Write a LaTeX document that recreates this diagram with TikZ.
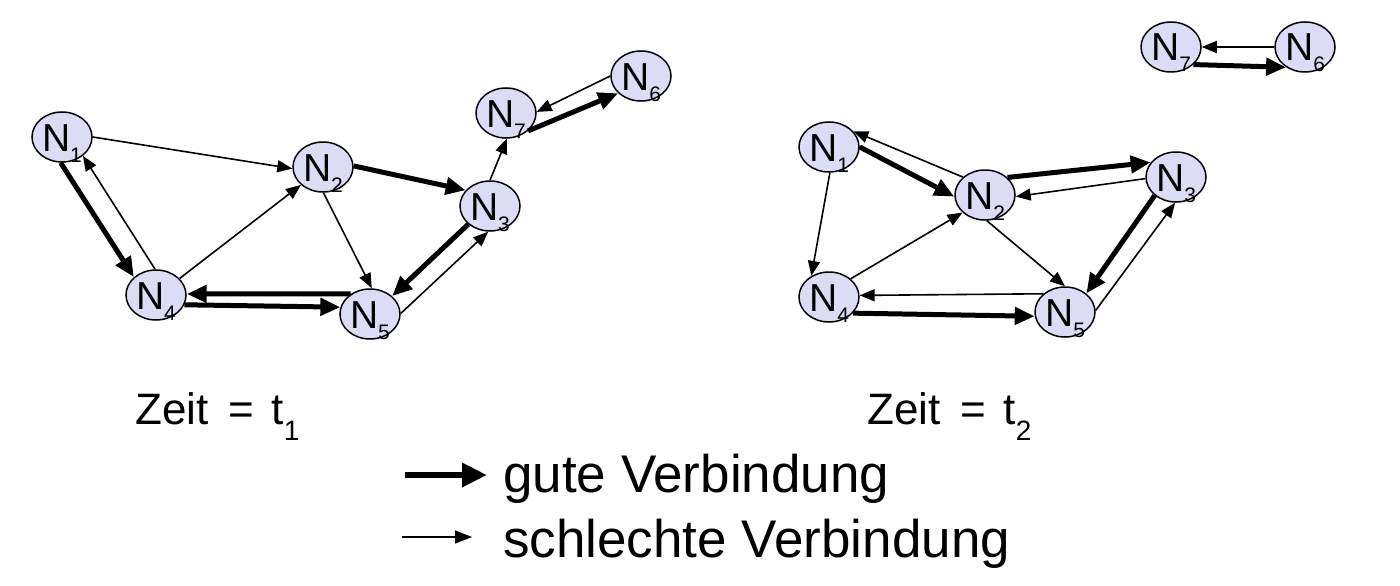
\documentclass[tikz,border=0pt]{standalone}
\usepackage{fontspec}
\setmainfont{Liberation Sans}
\usetikzlibrary{arrows.meta,shapes.geometric}
\definecolor{nodefill}{RGB}{220,220,245}
\newcommand\nsub[1]{\raisebox{-11pt}{\fontsize{21}{21}\selectfont #1}}
\newcommand\zsub[1]{\raisebox{-16pt}{\fontsize{28}{28}\selectfont #1}}
\tikzset{
  nd/.style={ellipse, draw=black, line width=1.5pt, fill=nodefill,
    minimum width=60pt, minimum height=50pt, inner sep=0pt,
    text height=28pt, text depth=0pt, font=\fontsize{39}{39}\selectfont},
  bad/.style={line width=1.6pt, -{Triangle[length=15pt,width=12pt]}},
  good/.style={line width=5pt, -{Triangle[length=20pt,width=17pt]}},
  badL/.style={line width=1.6pt, -{Triangle[length=17pt,width=13pt]}},
  goodL/.style={line width=6.5pt, -{Triangle[length=25pt,width=23pt]}},
  zeit/.style={inner sep=0pt, anchor=base west, font=\fontsize{44}{44}\selectfont},
  leg/.style={inner sep=0pt, anchor=base west, font=\fontsize{53}{53}\selectfont}
}
\begin{document}
\begin{tikzpicture}[x=1pt,y=-1pt]
\useasboundingbox (0,0) rectangle (1400,586);
% ---- Zeit = t1 ----
\node[nd] (a1) at (62,137) {N\nsub{1}};
\node[nd] (a2) at (323,167) {N\nsub{2}};
\node[nd] (a3) at (490,206) {N\nsub{3}};
\node[nd] (a4) at (156,295) {N\nsub{4}};
\node[nd] (a5) at (370,314) {N\nsub{5}};
\node[nd] (a6) at (641,76) {N\nsub{6}};
\node[nd] (a7) at (506,113) {N\nsub{7}};
\draw[bad]  (a1.0) -- (a2.183);
\draw[good] (a1.-93) -- (a4.141);
\draw[bad]  (a4.92) -- (a1.-42);
\draw[bad]  (a4.35) -- (a2.-141);
\draw[bad]  (a2.-89) -- (a5.86);
\draw[good] (a2.2) -- (a3.147);
\draw[good] (a5.134) -- (a4.2);
\draw[good] (a4.-19) -- (a5.167);
\draw[good] (a3.-140) -- (a5.39);
\draw[bad]  (a5.1) -- (a3.-94);
\draw[bad]  (a3.90) -- (a7.-88);
\draw[good] (a7.-39) -- (a6.-143);
\draw[bad]  (a6.180) -- (a7.2);
% ---- Zeit = t2 ----
\node[nd] (b1) at (829,147) {N\nsub{1}};
\node[nd] (b2) at (985,195) {N\nsub{2}};
\node[nd] (b3) at (1176,177) {N\nsub{3}};
\node[nd] (b4) at (829,297) {N\nsub{4}};
\node[nd] (b5) at (1065,312) {N\nsub{5}};
\node[nd] (b6) at (1305,47) {N\nsub{6}};
\node[nd] (b7) at (1171,47) {N\nsub{7}};
\draw[good] (b1.0) -- (b2.183);
\draw[bad]  (b2.141) -- (b1.33);
\draw[bad]  (b1.-88) -- (b4.130);
\draw[bad]  (b4.40) -- (b2.-142);
\draw[good] (b2.38) -- (b3.150);
\draw[bad]  (b3.183) -- (b2.-3);
\draw[bad]  (b2.-86) -- (b5.90);
\draw[good] (b3.-139) -- (b5.41);
\draw[bad]  (b5.3) -- (b3.-92);
\draw[bad]  (b5.140) -- (b4.3);
\draw[good] (b4.-34) -- (b5.-172);
\draw[bad]  (b6.180) -- (b7.0);
\draw[good] (b7.-38) -- (b6.-133);
% ---- labels ----
\node[zeit] (z1) at (135,424) {Zeit\hspace{0.45em}=\hspace{0.4em}t\zsub{1}};
\node[zeit] (z2) at (867,424) {Zeit\hspace{0.45em}=\hspace{0.4em}t\zsub{2}};
% ---- legend ----
\coordinate (g0) at (405,475);
\coordinate (g1) at (487,475);
\coordinate (s0) at (402,537);
\coordinate (s1) at (472,537);
\draw[goodL] (g0) -- (g1);
\draw[badL] (s0) -- (s1);
\node[leg] (lg1) at (503,492) {gute Verbindung};
\node[leg] (lg2) at (503,557) {schlechte Verbindung};
\end{tikzpicture}
\end{document}
